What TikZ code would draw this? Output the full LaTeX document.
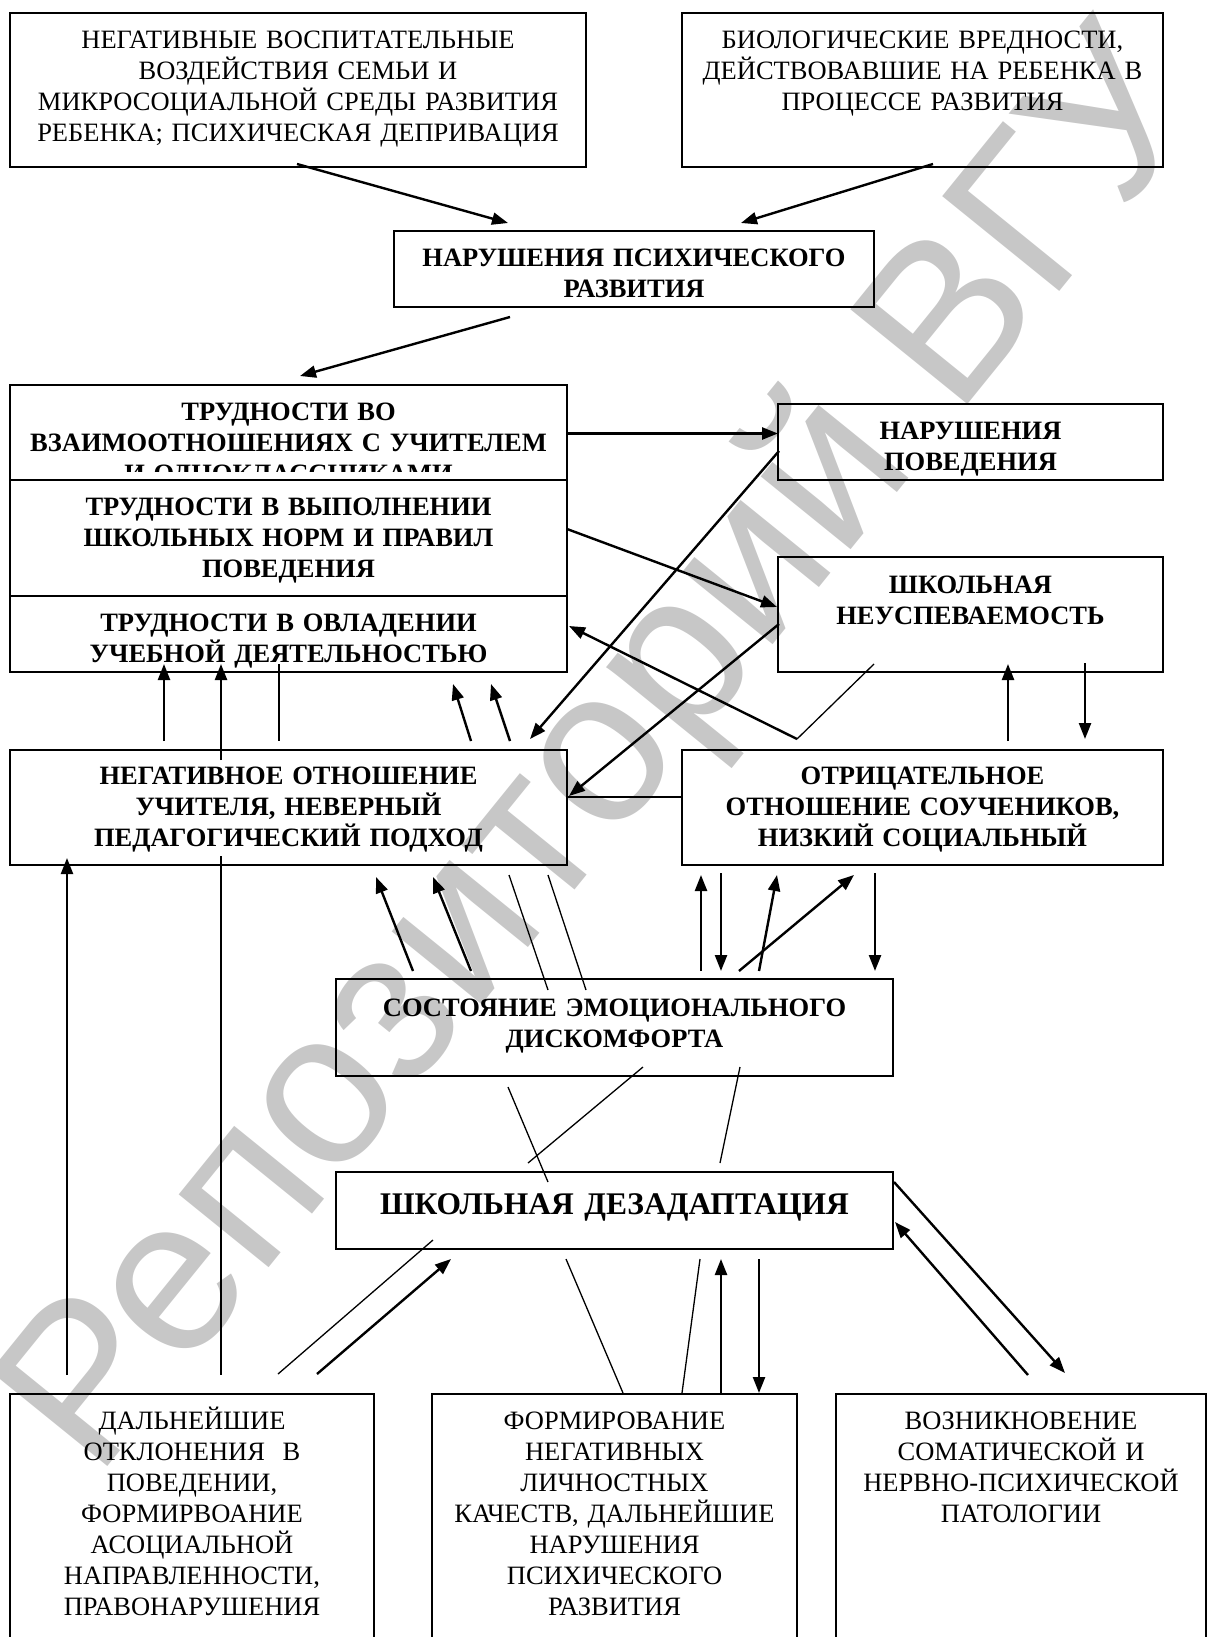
\documentclass[tikz,border=0pt]{standalone}
\usepackage{fontspec}
\setmainfont{Liberation Serif}
\newfontfamily\wmfont{Liberation Sans}
\usetikzlibrary{arrows.meta}

\tikzset{
  box/.style={draw, line width=2pt, inner sep=0pt, outer sep=0pt, anchor=north west},
  txt/.style={anchor=base, align=center, inner sep=0pt, font=\fontsize{26.5}{31}\selectfont},
  btxt/.style={txt, font=\fontsize{26.5}{31}\selectfont\bfseries},
  arr/.style={line width=2.4pt, -{Triangle[length=16pt,width=12pt]}},
  ln/.style={line width=1.3pt},
  wmark/.style={rotate=51, text=black!22, inner sep=0pt,
    font=\wmfont\fontsize{219}{219}\selectfont}
}

\begin{document}
\begin{tikzpicture}[x=1pt,y=-1pt]
\useasboundingbox (0,0) rectangle (1208,1637);
\clip (0,0) rectangle (1208,1637);
% watermark
\node[wmark] (wm) at (608,756) {Репозиторий ВГУ};

% boxes
\node[box, minimum width=576pt, minimum height=154pt] (a) at (10,13) {};
\node[box, minimum width=481pt, minimum height=154pt] (b) at (682,13) {};
\node[box, minimum width=480pt, minimum height=76pt] (c) at (394,231) {};
\node[box, minimum width=557pt, minimum height=95pt] (d1) at (10,385) {};
\node[box, minimum width=557pt, minimum height=116pt] (d2) at (10,480) {};
\node[box, minimum width=557pt, minimum height=76pt] (d3) at (10,596) {};
\node[box, minimum width=385pt, minimum height=76pt] (np) at (778,404) {};
\node[box, minimum width=385pt, minimum height=115pt] (sn) at (778,557) {};
\node[box, minimum width=557pt, minimum height=115pt] (e) at (10,750) {};
\node[box, minimum width=481pt, minimum height=115pt] (os) at (682,750) {};
\node[box, minimum width=557pt, minimum height=97pt] (sed) at (336,979) {};
\node[box, minimum width=557pt, minimum height=77pt] (sd) at (336,1172) {};
\node[box, minimum width=364pt, minimum height=270pt] (fdo) at (10,1394) {};
\node[box, minimum width=365pt, minimum height=270pt] (fnl) at (432,1394) {};
\node[box, minimum width=370pt, minimum height=270pt] (vsn) at (836,1394) {};

% texts
\node[txt, text width=576pt] (a-t) at ([yshift=-36pt]a.north)
  {НЕГАТИВНЫЕ ВОСПИТАТЕЛЬНЫЕ\\ВОЗДЕЙСТВИЯ СЕМЬИ И\\МИКРОСОЦИАЛЬНОЙ СРЕДЫ РАЗВИТИЯ\\РЕБЕНКА; ПСИХИЧЕСКАЯ ДЕПРИВАЦИЯ};
\node[txt, text width=481pt] (b-t) at ([yshift=-36pt]b.north)
  {БИОЛОГИЧЕСКИЕ ВРЕДНОСТИ,\\ДЕЙСТВОВАВШИЕ НА РЕБЕНКА В\\ПРОЦЕССЕ РАЗВИТИЯ};
\node[btxt, text width=480pt] (c-t) at ([yshift=-35pt]c.north)
  {НАРУШЕНИЯ ПСИХИЧЕСКОГО\\РАЗВИТИЯ};
\begin{scope}
\clip (d1.north west) rectangle ([yshift=-86pt]d1.north east);
\node[btxt, text width=557pt] (d1-t) at ([yshift=-35pt]d1.north)
  {ТРУДНОСТИ ВО\\ВЗАИМООТНОШЕНИЯХ С УЧИТЕЛЕМ\\И ОДНОКЛАССНИКАМИ};
\end{scope}
\node[btxt, text width=557pt] (d2-t) at ([yshift=-35pt]d2.north)
  {ТРУДНОСТИ В ВЫПОЛНЕНИИ\\ШКОЛЬНЫХ НОРМ И ПРАВИЛ\\ПОВЕДЕНИЯ};
\node[btxt, text width=557pt] (d3-t) at ([yshift=-35pt]d3.north)
  {ТРУДНОСТИ В ОВЛАДЕНИИ\\УЧЕБНОЙ ДЕЯТЕЛЬНОСТЬЮ};
\node[btxt, text width=385pt] (np-t) at ([yshift=-35pt]np.north)
  {НАРУШЕНИЯ\\ПОВЕДЕНИЯ};
\node[btxt, text width=385pt] (sn-t) at ([yshift=-36pt]sn.north)
  {ШКОЛЬНАЯ\\НЕУСПЕВАЕМОСТЬ};
\node[btxt, text width=557pt] (e-t) at ([yshift=-34pt]e.north)
  {НЕГАТИВНОЕ ОТНОШЕНИЕ\\УЧИТЕЛЯ, НЕВЕРНЫЙ\\ПЕДАГОГИЧЕСКИЙ ПОДХОД};
\node[btxt, text width=481pt] (os-t) at ([yshift=-34pt]os.north)
  {ОТРИЦАТЕЛЬНОЕ\\ОТНОШЕНИЕ СОУЧЕНИКОВ,\\НИЗКИЙ СОЦИАЛЬНЫЙ};
\node[btxt, text width=557pt] (sed-t) at ([yshift=-37pt]sed.north)
  {СОСТОЯНИЕ ЭМОЦИОНАЛЬНОГО\\ДИСКОМФОРТА};
\node[btxt, text width=557pt, font=\fontsize{31.5}{36}\selectfont\bfseries] (sd-t)
  at ([yshift=-42pt]sd.north) {ШКОЛЬНАЯ ДЕЗАДАПТАЦИЯ};
\node[txt, text width=364pt] (fdo-t) at ([yshift=-35pt]fdo.north)
  {ДАЛЬНЕЙШИЕ\\ОТКЛОНЕНИЯ~~В\\ПОВЕДЕНИИ,\\ФОРМИРВОАНИЕ\\АСОЦИАЛЬНОЙ\\НАПРАВЛЕННОСТИ,\\ПРАВОНАРУШЕНИЯ};
\node[txt, text width=365pt] (fnl-t) at ([yshift=-35pt]fnl.north)
  {ФОРМИРОВАНИЕ\\НЕГАТИВНЫХ\\ЛИЧНОСТНЫХ\\КАЧЕСТВ, ДАЛЬНЕЙШИЕ\\НАРУШЕНИЯ\\ПСИХИЧЕСКОГО\\РАЗВИТИЯ};
\node[txt, text width=370pt] (vsn-t) at ([yshift=-35pt]vsn.north)
  {ВОЗНИКНОВЕНИЕ\\СОМАТИЧЕСКОЙ И\\НЕРВНО-ПСИХИЧЕСКОЙ\\ПАТОЛОГИИ};

% top part
\draw[arr] ([shift={(287,151)}]a.north west) -- ([shift={(114,-8)}]c.north west);
\draw[arr] ([shift={(251,151)}]b.north west) -- ([shift={(347,-8)}]c.north west);
\draw[arr] ([shift={(116,86)}]c.north west) -- ([shift={(290,-9)}]d1.north west);
% right of the block
\draw[arr] ([shift={(557,48.5)}]d1.north west) -- ([shift={(0,29.5)}]np.north west);
\draw[arr] ([shift={(557,49)}]d2.north west) -- ([shift={(-1,50)}]sn.north west);
\draw[arr] ([shift={(1,47)}]np.north west) -- ([shift={(520,-11)}]e.north west);
\draw[arr] ([shift={(1,67)}]sn.north west) -- ([shift={(559,46)}]e.north west);
\coordinate (kink) at ([shift={(115,-11)}]os.north west);
\draw[ln] ([shift={(96,107)}]sn.north west) -- (kink);
\draw[arr] (kink) -- ([shift={(559,30)}]d3.north west);
\draw[ln] ([shift={(557,47)}]e.north west) -- ([shift={(0,47)}]os.north west);
% E to the block
\draw[arr] ([shift={(154,-9)}]e.north west) -- ([shift={(154,68)}]d3.north west);
\draw[arr] ([shift={(211,10)}]e.north west) -- ([shift={(211,68)}]d3.north west);
\draw[ln] ([shift={(269,68)}]d3.north west) -- ([shift={(269,-9)}]e.north west);
\draw[arr] ([shift={(461,-9)}]e.north west) -- ([shift={(443,88)}]d3.north west);
\draw[arr] ([shift={(500,-9)}]e.north west) -- ([shift={(481,88)}]d3.north west);
% OS and SN
\draw[arr] ([shift={(326,-9)}]os.north west) -- ([shift={(230,107)}]sn.north west);
\draw[arr] ([shift={(307,106)}]sn.north west) -- ([shift={(403,-11)}]os.north west);
% SED up
\draw[arr] ([shift={(77,-8)}]sed.north west) -- ([shift={(366,127)}]e.north west);
\draw[arr] ([shift={(135,-8)}]sed.north west) -- ([shift={(423,127)}]e.north west);
\draw[ln] ([shift={(499,125)}]e.north west) -- ([shift={(212,11)}]sed.north west);
\draw[ln] ([shift={(538,125)}]e.north west) -- ([shift={(250,11)}]sed.north west);
\draw[arr] ([shift={(365,-8)}]sed.north west) -- ([shift={(19,125)}]os.north west);
\draw[arr] ([shift={(39,123)}]os.north west) -- ([shift={(385,-8)}]sed.north west);
\draw[arr] ([shift={(423,-8)}]sed.north west) -- ([shift={(95,125)}]os.north west);
\draw[arr] ([shift={(403,-8)}]sed.north west) -- ([shift={(172,125)}]os.north west);
\draw[arr] ([shift={(193,123)}]os.north west) -- ([shift={(539,-8)}]sed.north west);
% long left lines
\draw[arr] ([shift={(57,-19)}]fdo.north west) -- ([shift={(57,108)}]e.north west);
\draw[ln] ([shift={(211,106)}]e.north west) -- ([shift={(211,-19)}]fdo.north west);
% SED and SD
\draw[ln] ([shift={(172,108)}]sed.north west) -- ([shift={(212,10)}]sd.north west);
\draw[ln] ([shift={(307,88)}]sed.north west) -- ([shift={(192,-9)}]sd.north west);
\draw[ln] ([shift={(404,88)}]sed.north west) -- ([shift={(384,-9)}]sd.north west);
% SD and bottom boxes
\draw[ln] ([shift={(97,68)}]sd.north west) -- ([shift={(268,-20)}]fdo.north west);
\draw[arr] ([shift={(307,-20)}]fdo.north west) -- ([shift={(115,87)}]sd.north west);
\draw[ln] ([shift={(230,87)}]sd.north west) -- ([shift={(191,-1)}]fnl.north west);
\draw[ln] ([shift={(364,87)}]sd.north west) -- ([shift={(250,-1)}]fnl.north west);
\draw[arr] ([shift={(289,-1)}]fnl.north west) -- ([shift={(385,87)}]sd.north west);
\draw[arr] ([shift={(423,87)}]sd.north west) -- ([shift={(327,-1)}]fnl.north west);
\draw[arr] ([shift={(558,10)}]sd.north west) -- ([shift={(229,-21)}]vsn.north west);
\draw[arr] ([shift={(192,-19)}]vsn.north west) -- ([shift={(559,50)}]sd.north west);
\end{tikzpicture}
\end{document}
